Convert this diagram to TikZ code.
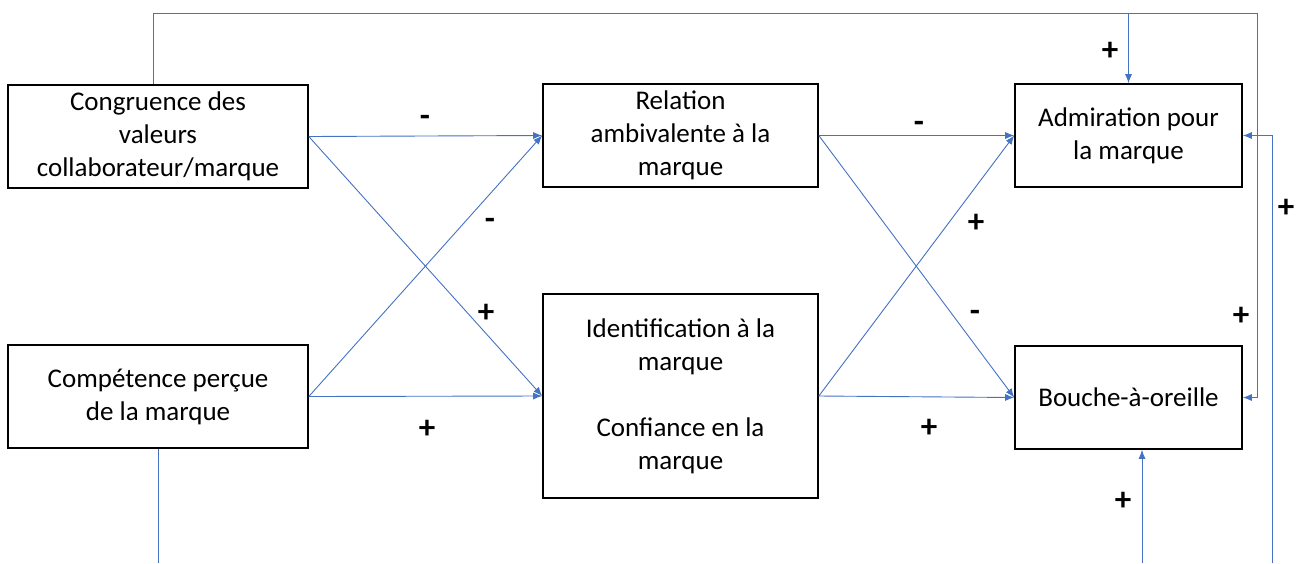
\documentclass[tikz,border=0pt]{standalone}
\usepackage{fontspec}
\setmainfont{Carlito}
\usetikzlibrary{arrows.meta}
\definecolor{linkblue}{HTML}{4472C4}
\tikzset{
  box/.style={draw=black, line width=1.6pt, fill=white, align=center, inner sep=0pt,
    font=\fontsize{27}{33}\selectfont},
  wire/.style={draw=linkblue, line width=0.9pt},
  link/.style={wire, -{Latex[length=9pt,width=7pt]}},
  sign/.style={font=\fontsize{33}{36}\selectfont\bfseries, inner sep=0pt}
}
\begin{document}
\begin{tikzpicture}[x=1pt,y=-1pt]
\useasboundingbox (0,0) rectangle (1296,563);
% boxes
\node[box, minimum width=300pt, minimum height=103pt] (cong) at (158,136.5) {Congruence des\\valeurs\\collaborateur/marque};
\node[box, minimum width=300pt, minimum height=103pt] (comp) at (158,396.5) {Compétence perçue\\de la marque};
\node[box, minimum width=275pt, minimum height=103pt] (rel) at (680.5,135.5) {Relation\\ambivalente à la\\marque};
\node[box, minimum width=275pt, minimum height=204pt] (ident) at (680.5,396) {Identification à la\\marque\\ \\Confiance en la\\marque};
\node[box, minimum width=227pt, minimum height=103pt] (adm) at (1128.5,135.5) {Admiration pour\\la marque};
\node[box, minimum width=227pt, minimum height=103pt] (bou) at (1128.5,397.5) {Bouche-à-oreille};
% free ends
\coordinate (topR) at (1257,13);
\coordinate (rightB) at (1272,563);
\coordinate (compB) at (158,563);
\coordinate (bouB) at (1142,563);
% crossing links
\draw[link] (cong.east) -- (rel.west);
\draw[link] (cong.east) -- (ident.west);
\draw[link] (comp.east) -- (rel.west);
\draw[link] (comp.east) -- (ident.west);
\draw[link] (rel.east) -- (adm.west);
\draw[link] (rel.east) -- (bou.west);
\draw[link] (ident.east) -- (adm.west);
\draw[link] (ident.east) -- (bou.west);
% feedback lines
\draw[link] ([xshift=-5pt]cong.north) |- (topR) |- (bou.east);
\draw[link] (adm.north |- topR) -- (adm.north);
\draw[link] (rightB) |- (adm.east);
\draw[wire] (comp.south) -- (compB);
\draw[link] (bouB) -- (bouB |- bou.south);
% signs
\node[sign] (s1) at (425,121) {-};
\node[sign] (s2) at (490,224) {-};
\node[sign] (s3) at (486,313) {+};
\node[sign] (s4) at (427,429) {+};
\node[sign] (s5) at (919,127) {-};
\node[sign] (s6) at (976,223) {+};
\node[sign] (s7) at (975,316) {-};
\node[sign] (s8) at (929,428) {+};
\node[sign] (s9) at (1110,51) {+};
\node[sign] (s10) at (1241,316) {+};
\node[sign] (s11) at (1286,208) {+};
\node[sign] (s12) at (1123,501) {+};
\end{tikzpicture}
\end{document}
